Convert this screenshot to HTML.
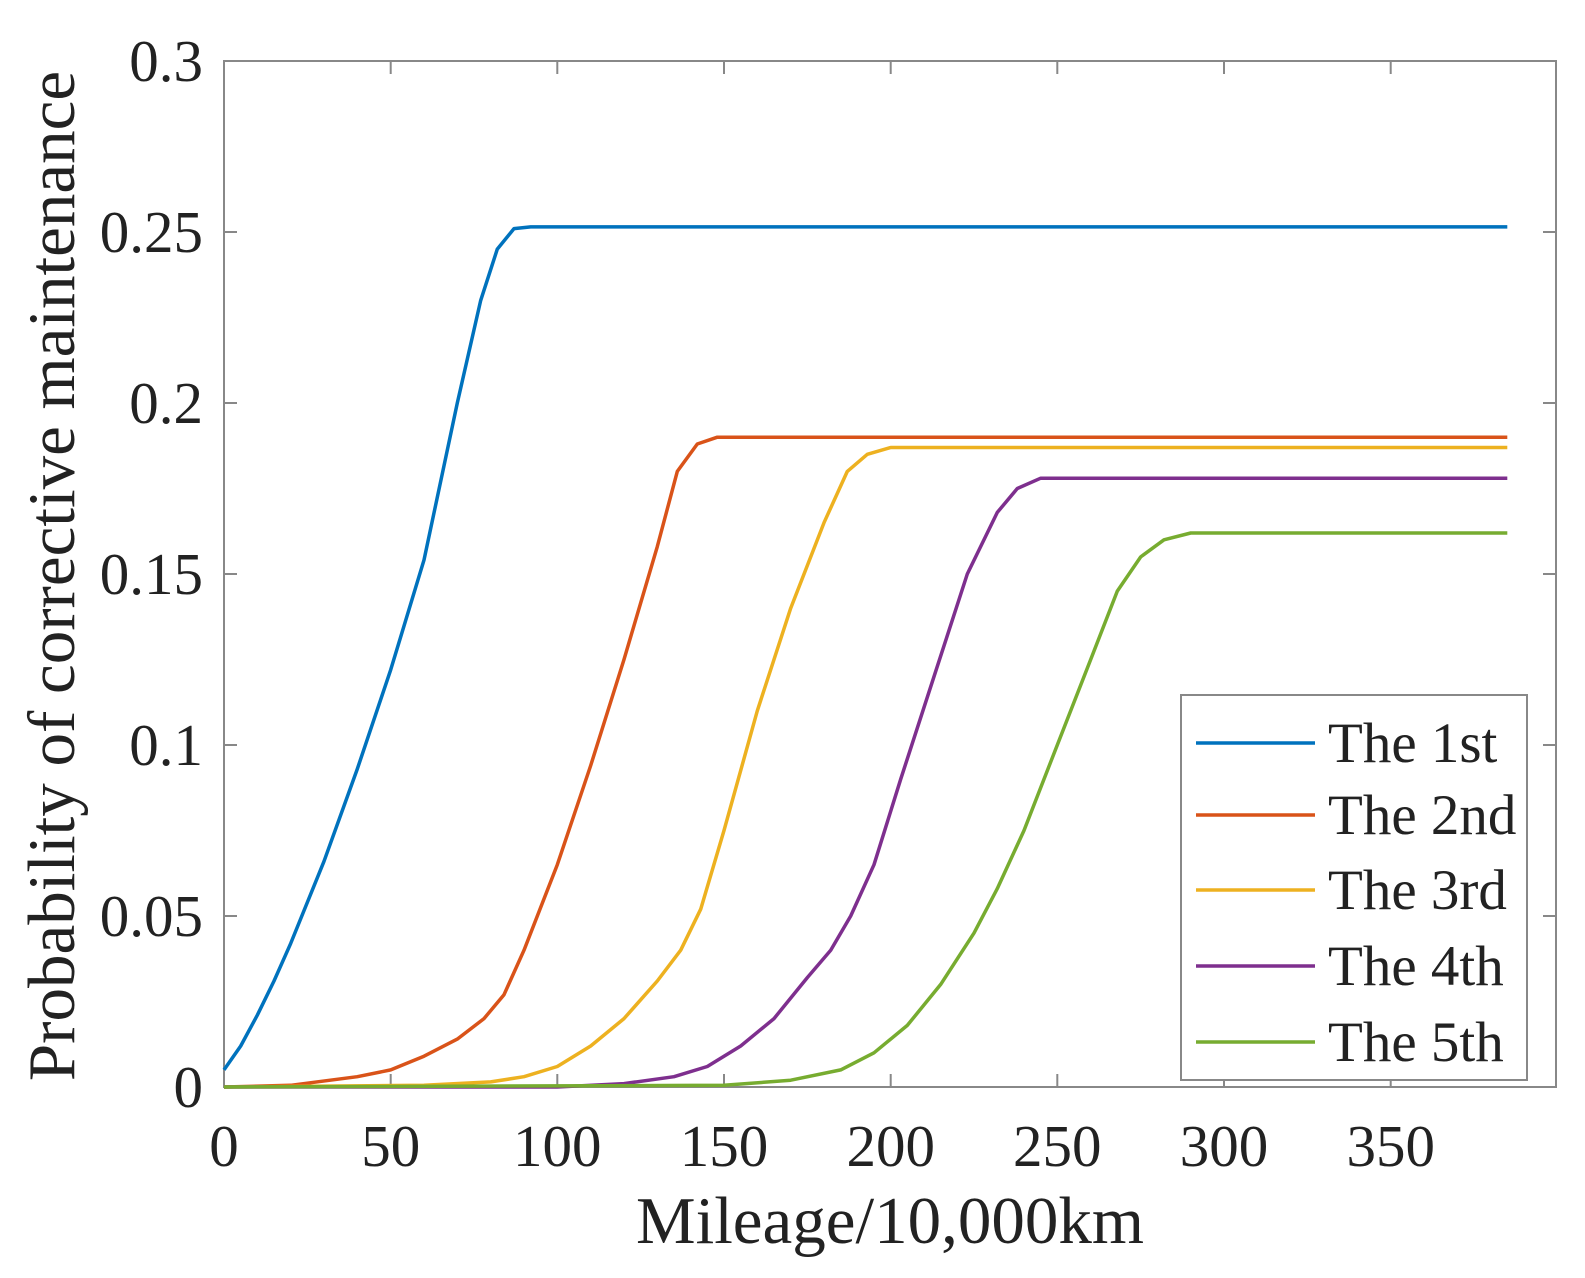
<!DOCTYPE html>
<html><head><meta charset="utf-8"><style>body{margin:0;background:#fff}</style></head><body>
<svg width="1585" height="1273" xmlns="http://www.w3.org/2000/svg" font-family="Liberation Serif, serif" fill="#222">
<rect width="1585" height="1273" fill="#fff"/>
<rect x="224" y="61" width="1332" height="1026" fill="none" stroke="#888" stroke-width="2"/>
<g stroke="#888" stroke-width="2">
<line x1="390.7" y1="1087" x2="390.7" y2="1074"/><line x1="557.3" y1="1087" x2="557.3" y2="1074"/><line x1="724" y1="1087" x2="724" y2="1074"/><line x1="890.7" y1="1087" x2="890.7" y2="1074"/><line x1="1057.3" y1="1087" x2="1057.3" y2="1074"/><line x1="1224" y1="1087" x2="1224" y2="1074"/><line x1="1390.7" y1="1087" x2="1390.7" y2="1074"/>
<line x1="390.7" y1="61" x2="390.7" y2="74"/><line x1="557.3" y1="61" x2="557.3" y2="74"/><line x1="724" y1="61" x2="724" y2="74"/><line x1="890.7" y1="61" x2="890.7" y2="74"/><line x1="1057.3" y1="61" x2="1057.3" y2="74"/><line x1="1224" y1="61" x2="1224" y2="74"/><line x1="1390.7" y1="61" x2="1390.7" y2="74"/>
<line x1="224" y1="916" x2="237" y2="916"/><line x1="224" y1="745" x2="237" y2="745"/><line x1="224" y1="574" x2="237" y2="574"/><line x1="224" y1="403" x2="237" y2="403"/><line x1="224" y1="232" x2="237" y2="232"/>
<line x1="1556" y1="916" x2="1543" y2="916"/><line x1="1556" y1="745" x2="1543" y2="745"/><line x1="1556" y1="574" x2="1543" y2="574"/><line x1="1556" y1="403" x2="1543" y2="403"/><line x1="1556" y1="232" x2="1543" y2="232"/>
</g>
<g font-size="59" text-anchor="middle">
<text x="224" y="1166">0</text><text x="390.7" y="1166">50</text><text x="557.3" y="1166">100</text><text x="724" y="1166">150</text><text x="890.7" y="1166">200</text><text x="1057.3" y="1166">250</text><text x="1224" y="1166">300</text><text x="1390.7" y="1166">350</text>
</g>
<g font-size="59" text-anchor="end">
<text x="203" y="1107">0</text><text x="203" y="936">0.05</text><text x="203" y="765">0.1</text><text x="203" y="594">0.15</text><text x="203" y="423">0.2</text><text x="203" y="252">0.25</text><text x="203" y="81">0.3</text>
</g>
<g fill="none" stroke-width="3.5" stroke-linejoin="round">
<polyline stroke="#0072BD" points="224,1069.9 240.7,1046 257.3,1015.2 274,981 290.7,943.4 324,861.3 357.3,769 390.7,669.8 424,560 457.3,403 480.7,300.4 497.3,249.1 514,228.6 530.7,226.9 1507.3,226.9"/>
<polyline stroke="#D95319" points="224,1087 290.7,1085.3 357.3,1076.7 390.7,1069.9 424,1056.2 457.3,1039.1 484,1018.6 504,994.7 524,950.2 557.3,864.7 590.7,765.5 624,659.5 657.3,546.6 677.3,471.4 697.3,444 717.3,437.2 1507.3,437.2"/>
<polyline stroke="#EDB120" points="224,1087 424,1085.3 490.7,1081.9 524,1076.7 557.3,1066.5 590.7,1046 624,1018.6 657.3,981 680.7,950.2 700.7,909.2 724,830.5 757.3,710.8 790.7,608.2 824,522.7 847.3,471.4 867.3,454.3 890.7,447.5 1507.3,447.5"/>
<polyline stroke="#7E2F8E" points="224,1087 557.3,1087 624,1083.6 674,1076.7 707.3,1066.5 740.7,1046 774,1018.6 807.3,977.6 830.7,950.2 850.7,916 874,864.7 900.7,779.2 934,676.6 967.3,574 997.3,512.4 1017.3,488.5 1040.7,478.2 1507.3,478.2"/>
<polyline stroke="#77AC30" points="224,1087 724,1085.3 790.7,1080.2 840.7,1069.9 874,1052.8 907.3,1025.4 940.7,984.4 974,933.1 997.3,888.6 1024,830.5 1057.3,745 1090.7,659.5 1117.3,591.1 1140.7,556.9 1164,539.8 1190.7,533 1507.3,533"/>
</g>
<rect x="1181" y="695" width="346" height="385" fill="#fff" stroke="#888" stroke-width="2"/>
<g stroke-width="3.5">
<line x1="1196" y1="743" x2="1315" y2="743" stroke="#0072BD"/>
<line x1="1196" y1="815" x2="1315" y2="815" stroke="#D95319"/>
<line x1="1196" y1="890" x2="1315" y2="890" stroke="#EDB120"/>
<line x1="1196" y1="966" x2="1315" y2="966" stroke="#7E2F8E"/>
<line x1="1196" y1="1042" x2="1315" y2="1042" stroke="#77AC30"/>
</g>
<g font-size="57">
<text x="1328" y="762">The 1st</text><text x="1328" y="834">The 2nd</text><text x="1328" y="909">The 3rd</text><text x="1328" y="985">The 4th</text><text x="1328" y="1061">The 5th</text>
</g>
<text x="890" y="1243" font-size="67" text-anchor="middle">Mileage/10,000km</text>
<text transform="translate(74,576) rotate(-90)" font-size="67" text-anchor="middle">Probability of corrective maintenance</text>
</svg>
</body></html>
